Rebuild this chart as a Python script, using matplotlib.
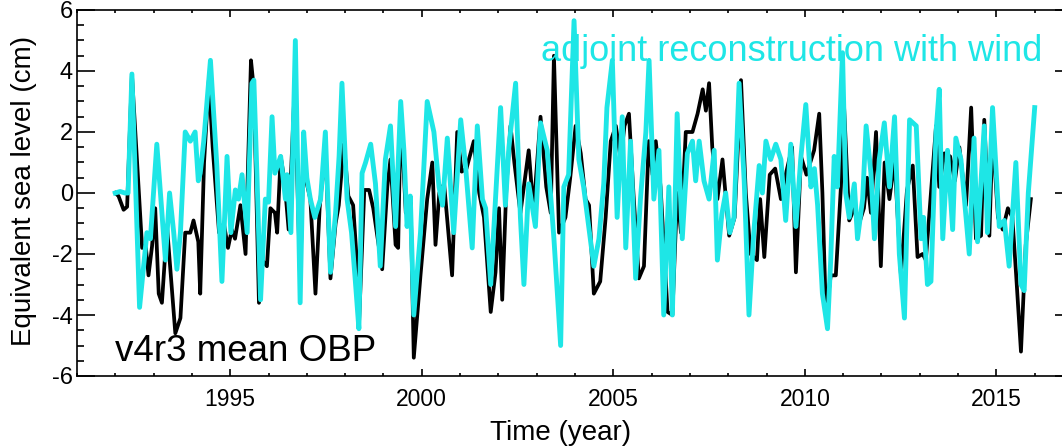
import matplotlib
matplotlib.use("Agg")
import matplotlib.pyplot as plt
from matplotlib.ticker import MultipleLocator
import numpy as np

# ---- data (months since Jan 1992, value in cm) ----
obp_month = [0, 1, 2.6, 3.7, 5.2, 8.4, 9.5, 10.4, 11.5, 12.5, 13.6, 14.6, 16.2, 18.8, 20.4, 21.9,
             23.5, 24.5, 26, 26.6, 27.8, 29.3, 30.5, 32.5, 34, 35.3, 36.5, 37.5, 39.2, 40.8, 42.5,
             43.4, 45, 46, 47.5, 48.6, 50, 50.7, 51.8, 53, 54.3, 56.2, 57.9, 59, 60, 61.1, 62.7,
             64, 65.8, 67.4, 69, 70, 71.6, 73, 74.5, 75.5, 76.3, 78, 79.5, 80.8, 83.6, 85.2, 86.2,
             87.8, 88.6, 89.4, 91, 92.5, 93.5, 95.6, 97.7, 99.3, 100.3, 101.5, 103, 105.5, 107.1,
             108.5, 110, 112.3, 114, 115.5, 117.6, 119.1, 120.2, 121.2, 122.5, 123.8, 125, 126.9,
             129.5, 131, 133.2, 135, 136.4, 137.4, 139, 141, 142.5, 144.2, 145.8, 147.3, 148.4,
             149.9, 151.9, 153.6, 155.2, 156.8, 158.3, 159.5, 160.9, 162.3, 164, 165.6, 167.1,
             168.3, 169.3, 170.8, 173, 174.5, 176, 177.2, 178.7, 180.8, 182.4, 184, 185, 186, 187,
             188.6, 190.2, 192.3, 194, 196, 197.5, 199, 201, 202, 203.3, 205, 206.7, 208.5, 210,
             212, 213.2, 214.8, 216.5, 218.9, 220.5, 221.5, 222.6, 224.1, 225.7, 227.3, 228.3,
             229.9, 231.5, 233, 234.5, 235.5, 236.7, 238.3, 239.8, 241, 242.5, 244.1, 246.1, 248,
             249.8, 251.3, 252.9, 253.9, 255.5, 257.1, 258.1, 259.7, 261.5, 263, 264.4, 266.5,
             268.1, 269.6, 271.2, 272.2, 273.8, 274.8, 276.5, 278, 279.6, 281, 282.2, 283.7,
             285.2, 286.8]
obp_cm = [0.0, -0.1, -0.55, -0.45, 3.9, -1.8, -1.7, -2.7, -1.75, -0.5, -3.3, -3.6, -1.1, -4.6,
          -4.1, -1.3, -1.3, -0.9, -1.6, -3.3, 1.0, 3.7, 1.5, -1.3, -1.0, -1.8, -1.2, -1.5, -0.4,
          -2.0, 4.35, 3.4, -3.6, -2.2, -2.4, -0.5, -0.65, -1.3, 1.2, 0.4, -1.2, 3.5, -2.9, 1.5,
          0.3, -0.2, -3.3, -0.5, 1.5, -2.8, -1.0, -0.4, 1.6, -0.1, -0.4, -2.0, -4.4, 0.1, 0.1,
          -0.5, -2.5, 0.2, 1.1, -1.7, -1.8, 2.7, -0.65, -0.2, -5.4, -2.7, -0.2, 1.0, -1.7, 0.0,
          0.3, -2.7, 2.0, 0.7, 0.8, 1.7, 0.0, -0.8, -3.9, -2.6, -0.5, -3.5, 0.2, 2.2, 1.0, -0.65,
          1.4, -0.6, 2.5, 0.2, -0.65, 4.5, -1.3, -0.8, 0.5, 2.2, 1.3, -0.2, -0.4, -3.3, -2.9,
          -0.8, 1.7, 2.2, 1.1, 2.2, 2.6, 0.0, -2.8, -2.4, 1.7, 0.6, 1.7, 0.2, -3.9, -4.0, 0.0,
          -1.3, 2.0, 2.0, 2.6, 3.4, 2.7, 3.6, 1.5, -0.2, 1.1, -1.4, -0.8, 3.7, 0.0, -2.0, -2.2,
          -0.2, -2.1, 0.6, 0.8, -0.2, 0.6, 1.5, -2.6, 1.2, 0.6, 1.4, 2.6, 0.0, -4.0, -2.7, -2.7,
          0.2, 2.8, -0.9, -0.5, -1.0, -0.5, 0.5, -0.65, 2.0, -2.4, 1.0, -0.2, 1.1, -2.7, 0.1,
          0.9, -2.1, -2.0, -2.2, 0.0, 2.2, 0.2, 1.3, 1.2, 0.4, 1.5, -0.4, 2.8, -1.5, -1.4, 2.4,
          -1.4, 2.0, -0.8, -1.2, -0.5, -0.8, -2.7, -5.2, -1.7, -0.2]

adj_month = [0, 1.5, 3, 4, 5.2, 7.6, 9.9, 11, 13, 14, 15.7, 17, 18.3, 19.3, 20.4, 21.9, 23.5, 25,
             26, 26.6, 27.7, 29.8, 31.8, 33.4, 34.3, 35, 36.2, 37.6, 38.6, 39.7, 41.3, 42.8, 43.4,
             44.4, 45.5, 47, 48, 49.1, 50, 51.8, 53.3, 53.8, 55, 56.4, 57.9, 59, 60, 61.1, 62.5,
             64.3, 65.8, 67.4, 69, 70.1, 71, 72.6, 74, 75.2, 76.3, 77.3, 78.4, 80, 81.5, 83, 84.6,
             86.2, 87.8, 89.4, 90.4, 91.4, 92.4, 93.5, 95.6, 97.7, 99.8, 101.4, 102.5, 104, 106,
             108.2, 109.7, 111.8, 113.4, 115, 116, 117.6, 119.1, 120.7, 122.2, 123.3, 125.4,
             126.9, 128, 129.5, 131.6, 133.2, 135.3, 137.4, 139.5, 140.5, 142, 143.7, 145.2,
             146.7, 148.3, 149.9, 151.5, 153, 154, 155.7, 157.2, 158.8, 159.9, 161.4, 163, 164.5,
             166.2, 167.2, 168.7, 170.3, 171.8, 173.4, 174.5, 176, 177.6, 179.2, 180.8, 181.8,
             182.9, 184.4, 186, 187.6, 188.6, 190, 191.2, 192.5, 193.8, 195.4, 197, 198.5, 200,
             201.7, 202.7, 203.8, 205.3, 206.9, 208.5, 210, 211.6, 213.2, 214.7, 216.3, 217.9,
             219, 220, 221.5, 223.1, 224.1, 225.2, 226.2, 227.8, 228.8, 229.9, 231.5, 232.5,
             234.1, 235.2, 236.7, 237.8, 239.3, 240.9, 242.5, 244.1, 245.6, 247.2, 248.8, 250.9,
             252.4, 253.2, 254.4, 255.5, 257.1, 258.1, 259.2, 260.7, 262.3, 263.3, 264.9, 267.5,
             269, 270.1, 272.2, 273.2, 274.8, 276.9, 278.5, 280, 282.1, 283.7, 284.7, 286, 288]
adj_cm = [0.0, 0.05, 0.0, 0.0, 3.9, -3.75, -1.3, -1.5, 1.6, 0.2, -2.2, 0.0, -1.3, -2.5, -1.3,
          2.0, 1.7, 2.0, 0.4, 0.65, 1.7, 4.35, 0.9, -2.9, -0.65, 1.2, -1.3, 0.1, -0.2, 0.6, -1.3,
          3.6, 3.7, 0.5, -3.5, -0.2, -0.3, 2.5, 0.65, 1.2, -0.2, 0.6, -1.3, 5.0, -3.6, 2.0, 0.5,
          -0.2, -0.8, -0.2, 2.0, -2.6, -0.65, 1.2, 3.6, -0.2, -1.3, -2.9, -4.45, 0.65, 1.0, 1.6,
          0.3, -2.4, 1.1, 2.2, -1.1, 3.0, 1.4, -1.1, -0.1, -4.0, -1.3, 3.0, 2.0, 0.2, -0.4, 1.8,
          -1.3, 2.4, 0.9, -1.8, 2.2, -0.2, -0.5, -3.0, -0.2, 2.8, -0.4, 1.5, 3.6, -0.8, -3.0, 0.3,
          -1.1, 2.3, 1.4, -1.5, -5.0, 0.2, 0.6, 5.65, 1.1, 0.2, -1.1, -2.4, -1.5, 0.3, 2.8, 4.35,
          -0.8, 2.5, -1.8, 1.7, -2.8, -0.2, 2.0, 4.35, -0.2, 1.4, -4.0, 0.2, -4.0, 2.6, -1.5,
          1.3, 1.7, 0.4, 1.7, 0.4, -0.2, 1.4, -2.2, -0.7, 0.0, -1.3, -0.8, 3.6, 0.4, -4.0, -1.3,
          0.9, 0.0, 1.7, 1.1, 1.6, 1.1, -0.9, 1.6, -1.1, 1.1, 2.9, 0.2, 0.8, -0.4, -3.3, -4.45,
          -2.2, 1.2, 0.2, 4.6, 0.0, -0.8, 0.3, -1.5, -0.2, 2.2, 0.65, -1.5, 1.1, 2.3, 0.2, 2.5,
          -2.0, -4.1, 2.4, 2.2, -1.5, -0.8, -3.0, -2.9, 2.0, 3.4, -1.5, 1.4, -1.2, 1.8, 1.1,
          -2.0, 1.8, -1.6, 2.2, -1.3, 2.8, -1.1, -0.9, -2.4, 1.0, -3.0, -3.2, 0.0, 2.8]

start_year = 1992
xlabel = "Time (year)"
ylabel = "Equivalent sea level (cm)"
label_obp = "v4r3 mean OBP"
label_adj = "adjoint reconstruction with wind"
xticks = [1995, 2000, 2005, 2010, 2015]
yticks = [-6, -4, -2, 0, 2, 4, 6]

CYAN = "#1EE6E6"
plt.rcParams["font.family"] = ["Liberation Sans", "DejaVu Sans"]
plt.rcParams["axes.unicode_minus"] = False

t_obp = start_year + np.array(obp_month) / 12.0
t_adj = start_year + np.array(adj_month) / 12.0

fig = plt.figure(figsize=(10.62, 4.47), dpi=100)
ax = fig.add_axes([77 / 1062, 71 / 447, 996 / 1062, 366 / 447])

ax.plot(t_obp, obp_cm, color="black", lw=2.7)
ax.plot(t_adj, adj_cm, color=CYAN, lw=3.5)

ax.set_xlim(1991, 2017)
ax.set_ylim(-6, 6)
ax.set_xticks(xticks)
ax.set_yticks(yticks)
ax.xaxis.set_minor_locator(MultipleLocator(1))
ax.yaxis.set_minor_locator(MultipleLocator(0.5))

ax.tick_params(axis="both", which="both", direction="in", top=True, right=True,
               width=1.2, colors="black")
ax.tick_params(axis="x", which="major", length=5, pad=9, labelsize=16.5)
ax.tick_params(axis="x", which="minor", length=2.5)
ax.tick_params(axis="y", which="major", length=13, pad=3, labelsize=17)
ax.tick_params(axis="y", which="minor", length=5)
for s in ax.spines.values():
    s.set_linewidth(1.2)

ax.set_xlabel(xlabel, fontsize=20)
ax.xaxis.set_label_coords(0.486, -0.12)
ax.xaxis.label.set_va("top")
ax.set_ylabel(ylabel, fontsize=20)
ax.yaxis.set_label_coords(-0.040, 0.505)

ax.text(38 / 996, 15 / 366, label_obp, transform=ax.transAxes, fontsize=26.5,
        color="black", ha="left", va="baseline")
ax.text(965 / 996, 315 / 366, label_adj, transform=ax.transAxes, fontsize=26,
        color=CYAN, ha="right", va="baseline")

fig.savefig("out.png", dpi=100)
